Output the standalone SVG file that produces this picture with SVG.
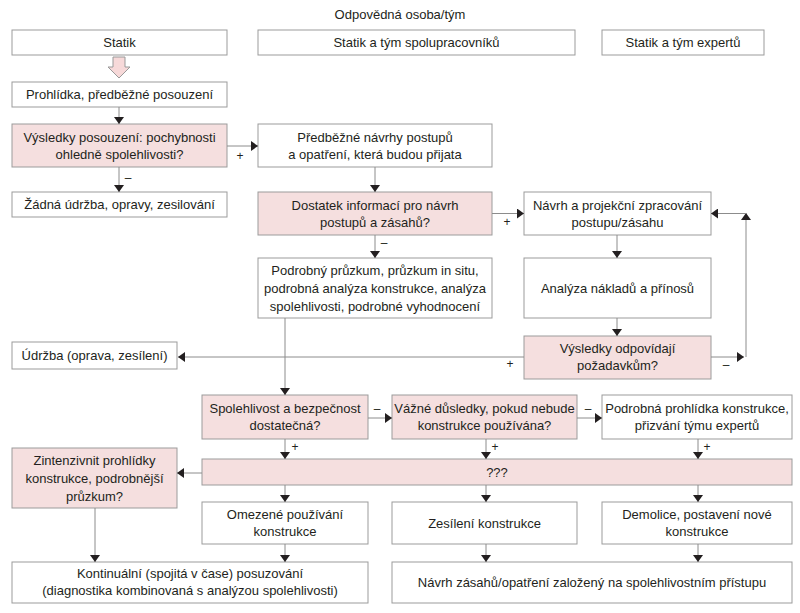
<svg xmlns="http://www.w3.org/2000/svg" width="800" height="613" viewBox="0 0 800 613">
<defs>
<marker id="ah" viewBox="0 0 7 10" refX="7" refY="5" markerWidth="7" markerHeight="10" markerUnits="userSpaceOnUse" orient="auto">
<path d="M0,0 L7,5 L0,10 z" fill="#231f20"/>
</marker>
<style>
.b{fill:#ffffff;stroke:#9b9b9b;stroke-width:1}
.p{fill:#f5dfdf;stroke:#9b9b9b;stroke-width:1}
text{font-family:"Liberation Sans",Arial,sans-serif;font-size:13px;fill:#231f20;text-anchor:middle}
.l{font-size:12px}
.c line,.c path{stroke:#8c8c8c;stroke-width:1;fill:none;marker-end:url(#ah)}
.c .n{marker-end:none}
</style>
</defs>
<rect width="800" height="613" fill="#ffffff"/>
<text x="400" y="19">Odpovědná osoba/tým</text>
<g id="h1"><rect class="b" x="12" y="30" width="215" height="25"/><text x="119.5" y="47">Statik</text></g>
<g id="h2"><rect class="b" x="258" y="30" width="317" height="25"/><text x="416.5" y="47">Statik a tým spolupracovníků</text></g>
<g id="h3"><rect class="b" x="602" y="30" width="162" height="25"/><text x="683" y="47">Statik a tým expertů</text></g>
<g id="start"><polygon points="113,57 125,57 125,67 130,67 119,78 108,67 113,67" fill="#f7d9d9" stroke="#999999" stroke-width="1"/></g>
<g id="n1"><rect class="b" x="12" y="82" width="215" height="25"/><text x="119.5" y="99">Prohlídka, předběžné posouzení</text></g>
<g id="n2"><rect class="p" x="12" y="124" width="215" height="43"/><text x="119.5" y="141.5">Výsledky posouzení: pochybnosti</text><text x="119.5" y="158.5">ohledně spolehlivosti?</text></g>
<g id="n3"><rect class="b" x="258" y="124" width="234" height="43"/><text x="375" y="141.5">Předběžné návrhy postupů</text><text x="375" y="158.5">a opatření, která budou přijata</text></g>
<g id="n4"><rect class="b" x="12" y="192" width="215" height="25"/><text x="119.5" y="209">Žádná údržba, opravy, zesilování</text></g>
<g id="n5"><rect class="p" x="258" y="192" width="234" height="43"/><text x="375" y="209.5">Dostatek informací pro návrh</text><text x="375" y="226.5">postupů a zásahů?</text></g>
<g id="n6"><rect class="b" x="524" y="192" width="187" height="43"/><text x="617.5" y="209.5">Návrh a projekční zpracování</text><text x="617.5" y="226.5">postupu/zásahu</text></g>
<g id="n7"><rect class="b" x="258" y="258" width="234" height="60"/><text x="375" y="275">Podrobný průzkum, průzkum in situ,</text><text x="375" y="293">podrobná analýza konstrukce, analýza</text><text x="375" y="311">spolehlivosti, podrobné vyhodnocení</text></g>
<g id="n8"><rect class="b" x="524" y="258" width="187" height="60"/><text x="617.5" y="293">Analýza nákladů a přínosů</text></g>
<g id="n9"><rect class="p" x="524" y="336" width="187" height="43"/><text x="617.5" y="353">Výsledky odpovídají</text><text x="617.5" y="370">požadavkům?</text></g>
<g id="n10"><rect class="b" x="12" y="342" width="165" height="27"/><text x="94.5" y="360">Údržba (oprava, zesílení)</text></g>
<g id="n11"><rect class="p" x="202" y="395" width="166" height="44"/><text x="285" y="413">Spolehlivost a bezpečnost</text><text x="285" y="430">dostatečná?</text></g>
<g id="n12"><rect class="p" x="392" y="395" width="185" height="44"/><text x="484.5" y="413">Vážné důsledky, pokud nebude</text><text x="484.5" y="430">konstrukce používána?</text></g>
<g id="n13"><rect class="b" x="602" y="395" width="190" height="44"/><text x="697" y="413">Podrobná prohlídka konstrukce,</text><text x="697" y="430">přizvání týmu expertů</text></g>
<g id="n14"><rect class="p" x="12" y="448" width="165" height="60"/><text x="94.5" y="465">Zintenzivnit prohlídky</text><text x="94.5" y="483">konstrukce, podrobnější</text><text x="94.5" y="501">průzkum?</text></g>
<g id="n15"><rect class="p" x="202" y="459" width="590" height="26"/><text x="497" y="477">???</text></g>
<g id="n16"><rect class="b" x="202" y="502" width="166" height="42"/><text x="285" y="519">Omezené používání</text><text x="285" y="536">konstrukce</text></g>
<g id="n17"><rect class="b" x="392" y="502" width="185" height="42"/><text x="484.5" y="528">Zesílení konstrukce</text></g>
<g id="n18"><rect class="b" x="602" y="502" width="190" height="42"/><text x="697" y="519">Demolice, postavení nové</text><text x="697" y="536">konstrukce</text></g>
<g id="n19"><rect class="b" x="12" y="562" width="356" height="41"/><text x="190" y="578">Kontinuální (spojitá v čase) posuzování</text><text x="190" y="595">(diagnostika kombinovaná s analýzou spolehlivosti)</text></g>
<g id="n20"><rect class="b" x="392" y="562" width="400" height="41"/><text x="592" y="587">Návrh zásahů/opatření založený na spolehlivostním přístupu</text></g>
<g id="connectors" class="c">
<line x1="119" y1="107" x2="119" y2="124"/>
<line x1="227" y1="146" x2="258" y2="146"/>
<line x1="119" y1="167" x2="119" y2="192"/>
<line x1="375" y1="167" x2="375" y2="192"/>
<line x1="375" y1="235" x2="375" y2="258"/>
<line x1="492" y1="213.5" x2="524" y2="213.5"/>
<line x1="617" y1="235" x2="617" y2="258"/>
<line x1="617" y1="318" x2="617" y2="336"/>
<line x1="711" y1="357" x2="744" y2="357"/>
<line x1="746" y1="357" x2="746" y2="213"/>
<line x1="746" y1="213.5" x2="711" y2="213.5"/>
<line x1="524" y1="357" x2="178" y2="357"/>
<line x1="285" y1="318" x2="285" y2="395"/>
<line x1="368" y1="418" x2="392" y2="418"/>
<line x1="577" y1="418" x2="602" y2="418"/>
<line x1="285" y1="439" x2="285" y2="459"/>
<line x1="486" y1="439" x2="486" y2="459"/>
<line x1="698" y1="439" x2="698" y2="459"/>
<line x1="202" y1="473" x2="177" y2="473"/>
<line x1="285" y1="485" x2="285" y2="502"/>
<line x1="486" y1="485" x2="486" y2="502"/>
<line x1="698" y1="485" x2="698" y2="502"/>
<line x1="95" y1="508" x2="95" y2="562"/>
<line x1="285" y1="544" x2="285" y2="562"/>
<line x1="486" y1="544" x2="486" y2="562"/>
<line x1="698" y1="544" x2="698" y2="562"/>
</g>
<g id="labels">
<text class="l" x="240" y="160">+</text>
<text class="l" x="128" y="182">–</text>
<text class="l" x="384" y="247">–</text>
<text class="l" x="507" y="226">+</text>
<text class="l" x="510" y="368">+</text>
<text class="l" x="726" y="369">–</text>
<text class="l" x="377" y="413">–</text>
<text class="l" x="588" y="413">–</text>
<text class="l" x="295" y="451">+</text>
<text class="l" x="495" y="451">+</text>
<text class="l" x="707" y="451">+</text>
</g>
</svg>
